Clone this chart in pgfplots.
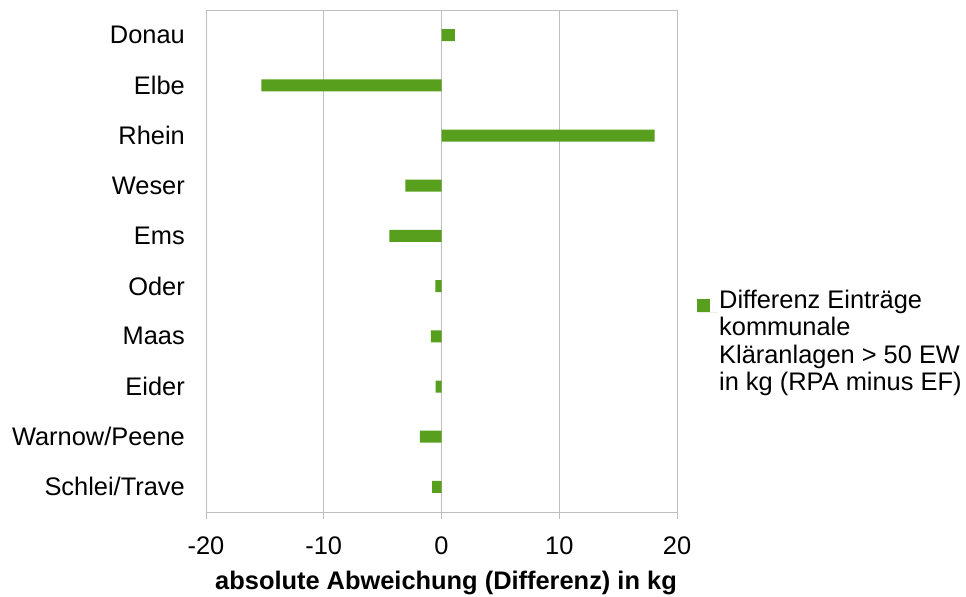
\documentclass[border=0pt]{standalone}
\usepackage{fontspec}
\setmainfont{Liberation Sans}
\usepackage{pgfplots}
\pgfplotsset{compat=1.18}
\definecolor{barg}{RGB}{88,159,30}
\definecolor{gridg}{RGB}{190,190,190}
\newcommand{\bigf}{\fontsize{25.5}{27.7}\selectfont}
\begin{document}
\begin{tikzpicture}
\useasboundingbox (0,0) rectangle (966bp,597bp);
\begin{axis}[
  at={(206bp,85bp)}, anchor=south west,
  scale only axis, width=471bp, height=502bp,
  xmin=-20, xmax=20, ymin=-0.5, ymax=9.5, y dir=reverse,
  xbar, bar width=12bp, bar shift=0pt,
  xtick={-20,-10,0,10,20}, xticklabels={-20,-10,0,10,20},
  ytick={0,...,9},
  yticklabels={Donau,Elbe,Rhein,Weser,Ems,Oder,Maas,Eider,Warnow/Peene,Schlei/Trave},
  xmajorgrids, grid style={gridg, line width=1bp},
  axis line style={gridg, line width=1bp},
  xtick style={gridg, line width=1bp},
  ytick style={draw=none},
  xtick align=outside, major tick length=7bp, xtick pos=lower,
  x tick label style={font=\bigf, anchor=north, inner sep=0pt, yshift=-18bp},
  y tick label style={font=\bigf, anchor=east, inner sep=0pt, xshift=-14bp},
  xlabel={\bfseries absolute Abweichung (Differenz) in kg},
  xlabel style={font=\bigf, at={(axis description cs:0.5,0)}, anchor=north, inner sep=0pt, yshift=-59bp, xshift=4.5bp},
  legend style={draw=none, fill=none, font=\bigf, at={(axis description cs:1,0.5)}, anchor=west, xshift=20bp, yshift=-80bp, inner sep=0pt, cells={anchor=west, align=left}},
  legend image code/.code={\fill[barg] (0bp,29bp) rectangle (13bp,42bp); \path (0bp,29bp) -- (20bp,29bp);},
]
\addplot[fill=barg, draw=none] coordinates {
  (1.13,0) (-15.3,1) (18.1,2) (-3.06,3) (-4.42,4)
  (-0.51,5) (-0.9,6) (-0.5,7) (-1.84,8) (-0.79,9)};
\addlegendentry{Differenz Einträge\\kommunale\\Kläranlagen > 50 EW\\in kg (RPA minus EF)}
\end{axis}
\end{tikzpicture}
\end{document}
